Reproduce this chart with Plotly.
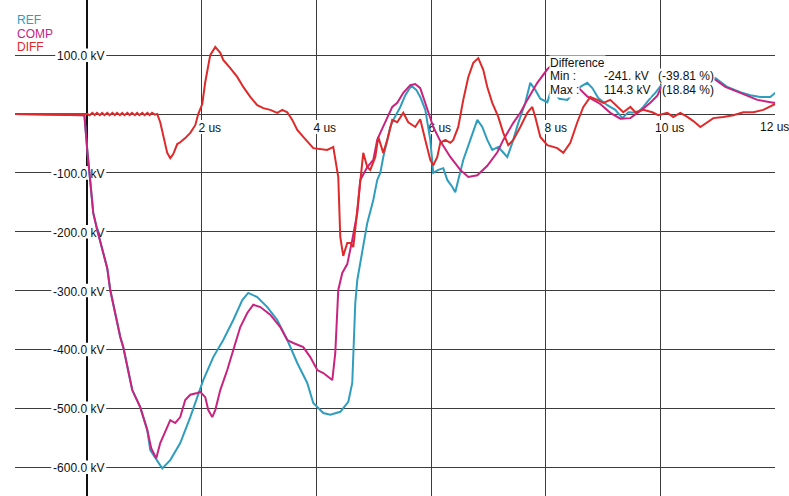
import plotly.graph_objects as go

# ---------------- data (time in us, voltage in kV) ----------------
ref_t = [-1.26, -0.05, 0.0, 0.035, 0.105, 0.174, 0.244, 0.349, 0.401, 0.488, 0.576, 0.628, 0.715, 0.785,
         0.924, 1.047, 1.099, 1.221, 1.308, 1.448, 1.622, 1.797, 1.919, 2.023, 2.198, 2.372, 2.547, 2.704,
         2.808, 2.965, 3.140, 3.314, 3.489, 3.663, 3.837, 3.942, 4.117, 4.239, 4.413, 4.553, 4.622, 4.640,
         4.675, 4.710, 4.762, 4.814, 4.884, 4.989, 5.058, 5.111, 5.163, 5.233, 5.285, 5.338, 5.460, 5.547,
         5.652, 5.739, 5.808, 5.896, 5.983, 6.035, 6.122, 6.210, 6.279, 6.367, 6.419, 6.471, 6.558, 6.681,
         6.803, 6.890, 6.977, 7.064, 7.169, 7.326, 7.413, 7.518, 7.640, 7.727, 7.814, 7.902, 8.024, 8.094,
         8.233, 8.373, 8.477, 8.599, 8.721, 8.809, 8.913, 9.070, 9.210, 9.332, 9.437, 9.594, 9.698, 9.820,
         9.908, 10.08, 10.52, 10.96, 11.164, 11.390, 11.565, 11.739, 11.913, 12.0]
ref_v = [0, -2, -61, -100, -168, -197, -223, -262, -299, -342, -379, -396, -435, -469,
         -498, -537, -571, -588, -602, -588, -559, -515, -481, -452, -413, -384, -350, -316,
         -304, -311, -328, -350, -384, -423, -457, -491, -508, -511, -506, -489, -457, -406,
         -321, -282, -253, -226, -185, -146, -112, -100, -73, -44, -22, -10, 12, 32,
         48, 41, 29, 7, -44, -100, -95, -92, -112, -124, -133, -112, -78, -44,
         -10, -22, -44, -61, -56, -73, -49, -15, 19, 53, 41, 26, 20, 42,
         26, 24, 36, 46, 53, 44, 27, 15, 7, -7, 3, 2, 12, 27,
         36, 58, 64, 61, 46, 37, 32, 29, 29, 36]

comp_t = [-1.26, -0.05, 0.0, 0.035, 0.105, 0.174, 0.244, 0.349, 0.401, 0.488, 0.576, 0.628, 0.715, 0.785,
          0.924, 1.047, 1.116, 1.204, 1.273, 1.395, 1.448, 1.535, 1.622, 1.709, 1.797, 1.919, 1.971, 2.058,
          2.111, 2.180, 2.233, 2.320, 2.442, 2.547, 2.669, 2.791, 2.896, 3.018, 3.192, 3.366, 3.489, 3.593,
          3.768, 3.890, 4.012, 4.117, 4.274, 4.326, 4.378, 4.448, 4.535, 4.622, 4.710, 4.762, 4.884, 4.989,
          5.058, 5.111, 5.233, 5.320, 5.407, 5.512, 5.634, 5.721, 5.808, 5.931, 6.035, 6.157, 6.332, 6.506,
          6.646, 6.803, 6.977, 7.152, 7.256, 7.431, 7.553, 7.675, 7.849, 8.024, 8.20, 8.37, 8.53, 8.72,
          8.948, 9.123, 9.297, 9.472, 9.646, 9.820, 9.943, 10.08, 10.52, 10.96, 11.129, 11.390, 11.687,
          11.966, 12.0]
comp_v = [0, -2, -61, -100, -168, -197, -223, -262, -299, -342, -379, -396, -435, -469,
          -498, -537, -568, -585, -559, -532, -520, -525, -515, -486, -477, -474, -472, -481,
          -503, -515, -503, -469, -435, -401, -362, -338, -324, -328, -341, -362, -384, -389,
          -396, -413, -435, -440, -452, -406, -299, -270, -255, -214, -168, -112, -90, -78,
          -44, -32, -5, 12, 19, 36, 49, 51, 44, 7, -22, -46, -73, -95,
          -107, -104, -88, -65, -44, -15, 2, 24, 53, 76, 92, 84, 48, 30,
          17, 2, -8, -7, 5, 19, 31, 60, 64, 58, 46, 36, 24,
          19, 19]

diff_t = [-1.26, 0.0, 0.04, 0.09, 0.13, 0.17, 0.22, 0.26, 0.30, 0.35, 0.39, 0.44, 0.48, 0.52, 0.57,
          0.61, 0.65, 0.70, 0.74, 0.78, 0.83, 0.87, 0.91, 0.96, 1.00, 1.05, 1.09, 1.13, 1.18,
          1.22, 1.273, 1.326, 1.395, 1.448, 1.500, 1.570, 1.622, 1.709, 1.797, 1.884, 1.936, 2.006, 2.058,
          2.145, 2.233, 2.320, 2.372, 2.494, 2.616, 2.721, 2.843, 2.965, 3.070, 3.192, 3.314, 3.401, 3.489,
          3.576, 3.663, 3.768, 3.942, 4.186, 4.291, 4.378, 4.413, 4.465, 4.535, 4.587, 4.640, 4.710, 4.762,
          4.814, 4.884, 4.936, 5.024, 5.076, 5.163, 5.233, 5.320, 5.407, 5.512, 5.599, 5.721, 5.808, 5.896,
          5.983, 6.035, 6.105, 6.157, 6.245, 6.332, 6.384, 6.471, 6.558, 6.646, 6.733, 6.820, 6.907, 6.977,
          7.064, 7.169, 7.256, 7.343, 7.431, 7.553, 7.675, 7.762, 7.814, 7.902, 8.024, 8.198, 8.303, 8.425,
          8.547, 8.652, 8.774, 8.896, 9.001, 9.123, 9.245, 9.349, 9.472, 9.559, 9.698, 9.855, 9.960, 10.117,
          10.222, 10.344, 10.466, 10.571, 10.693, 10.815, 10.919, 11.094, 11.268, 11.443, 11.617, 11.791,
          11.966, 12.0]
diff_v = [0, 0, -2, 2, -2, 2, -2, 2, -2, 2, -2, 2, -2, 2, -2,
          2, -2, 2, -2, 2, -2, 2, -2, 2, -2, 2, -2, 2, -1,
          0, -14, -39, -66, -75, -68, -51, -48, -41, -32, -19, 0, 17, 54,
          100, 114, 104, 92, 78, 63, 46, 29, 15, 10, 7, 2, 7, 3,
          -10, -27, -39, -58, -61, -56, -107, -209, -241, -219, -219, -226, -163, -112,
          -66, -90, -95, -73, -39, -66, -44, -10, -14, 2, -14, -22, -9, -44,
          -78, -87, -73, -49, -44, -49, -44, -22, 24, 63, 87, 95, 75, 46,
          19, -5, -32, -53, -44, -22, 2, 12, -5, -39, -53, -58, -66, -49,
          -14, 12, 29, 24, 19, 24, 12, 3, 12, 3, 7, 3, -2, 2,
          -5, 2, -5, -12, -22, -14, -7, -5, -2, 3, 3, 7,
          15, 17]

y_tick_vals = [100, -100, -200, -300, -400, -500, -600]
x_tick_vals = [2, 4, 6, 8, 10, 12]

# ---------------- styling / layout helpers ----------------
W, H = 789, 496
X0PX, XS = 87.0, 57.34      # px of t=0, px per us
Y0PX, YS = 114.0, 0.5886    # px of 0 kV, px per kV


def tx(px):
    return (px - X0PX) / XS


def vy(py):
    return (Y0PX - py) / YS


FONT = "Arial, Liberation Sans, sans-serif"
C_REF = "#2f9dbd"
C_COMP = "#c8237f"
C_DIFF = "#de2a2a"
GRID = "#3c3c3c"

fig = go.Figure()
fig.add_trace(go.Scatter(x=ref_t, y=ref_v, mode="lines", name="REF",
                         line=dict(color=C_REF, width=2)))
fig.add_trace(go.Scatter(x=comp_t, y=comp_v, mode="lines", name="COMP",
                         line=dict(color=C_COMP, width=2)))
fig.add_trace(go.Scatter(x=diff_t, y=diff_v, mode="lines", name="DIFF",
                         line=dict(color=C_DIFF, width=2)))

shapes = []
annotations = []

# y tick labels (white box between grid and traces)
for v in y_tick_vals:
    txt = f"{v:.1f} kV"
    w = 47 if v > 0 else 51
    right = 104
    shapes.append(dict(type="rect", xref="x", yref="y", layer="between",
                       x0=tx(right - w - 2), x1=tx(right + 2), y0=v - 11.5, y1=v + 11.5,
                       fillcolor="white", line=dict(width=0),
                       label=dict(text=txt, textposition="middle center", padding=0,
                                  font=dict(family=FONT, size=12, color="#111"))))

# x tick labels
x_lefts = {2: 198, 4: 313, 6: 428, 8: 544, 10: 655, 12: 759}
for t in x_tick_vals:
    txt = f"{t} us"
    w = 23 if t < 10 else 29
    left = x_lefts[t]
    if t == 12:
        annotations.append(dict(x=tx(left), y=vy(127), xref="x", yref="y", text=txt,
                                showarrow=False, xanchor="left", yanchor="middle",
                                borderpad=0,
                                font=dict(family=FONT, size=12, color="#111")))
        continue
    shapes.append(dict(type="rect", xref="x", yref="y", layer="between",
                       x0=tx(left - 1), x1=tx(left + w + 1), y0=vy(134), y1=vy(120),
                       fillcolor="white", line=dict(width=0),
                       label=dict(text=txt, textposition="middle center", padding=0,
                                  font=dict(family=FONT, size=12, color="#111"))))

# legend-like labels
for name, col, py in [("REF", C_REF, 20), ("COMP", C_COMP, 33.5), ("DIFF", C_DIFF, 47)]:
    annotations.append(dict(x=tx(16), y=vy(py), xref="x", yref="y", text=name,
                            showarrow=False, xanchor="left", yanchor="middle", borderpad=0,
                            font=dict(family=FONT, size=12, color=col)))

# difference box texts
diff_items = [("Difference", 549, 62.5), ("Min :", 549, 76), ("-241. kV", 603, 76),
              ("(-39.81 %)", 657, 76), ("Max :", 549, 89.5), ("114.3 kV", 603, 89.5),
              ("(18.84 %)", 661, 89.5)]
for txt, px, py in diff_items:
    annotations.append(dict(x=tx(px), y=vy(py), xref="x", yref="y", text=txt,
                            showarrow=False, xanchor="left", yanchor="middle",
                            bgcolor="white", borderpad=0,
                            font=dict(family=FONT, size=12, color="#111")))

fig.update_layout(
    width=W, height=H,
    margin=dict(l=15, r=14, t=0, b=0),
    paper_bgcolor="white", plot_bgcolor="white",
    showlegend=False,
    shapes=shapes, annotations=annotations,
    xaxis=dict(range=[-1.26, 11.995], dtick=2, tick0=0, showticklabels=False,
               showgrid=True, gridcolor=GRID, gridwidth=1,
               zeroline=True, zerolinecolor="#111", zerolinewidth=2,
               showline=False, ticks=""),
    yaxis=dict(range=[-649, 193.7], dtick=100, tick0=0, showticklabels=False,
               showgrid=True, gridcolor=GRID, gridwidth=1,
               zeroline=True, zerolinecolor=GRID, zerolinewidth=1,
               showline=False, ticks=""),
)

fig.write_html("out.html", config={"displayModeBar": False},
               post_script="document.body.style.margin='0';")
